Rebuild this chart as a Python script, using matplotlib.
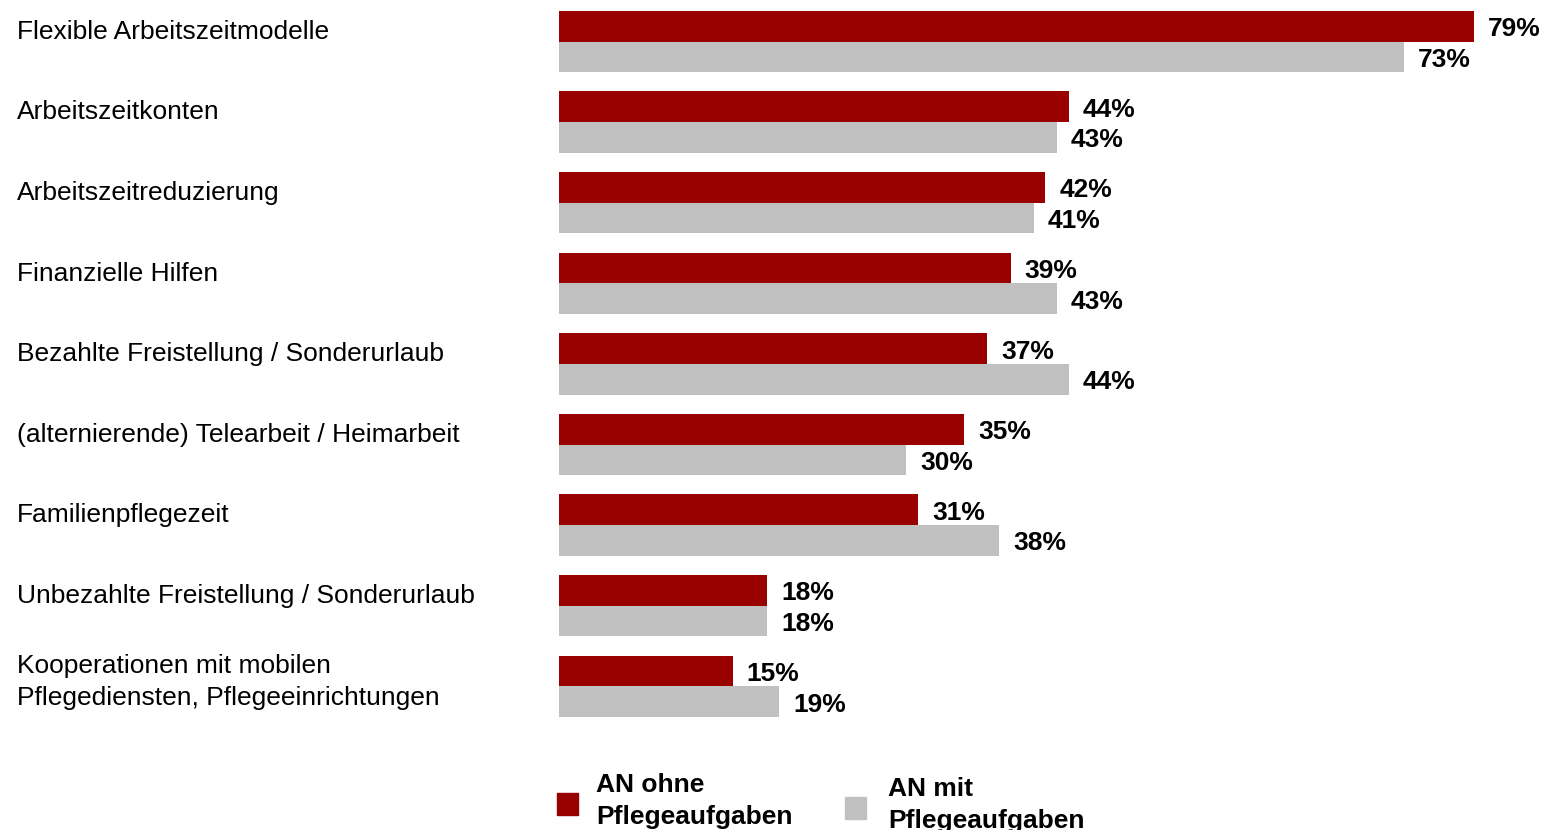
import matplotlib.pyplot as plt
from matplotlib.patches import Rectangle
from matplotlib.transforms import blended_transform_factory

plt.rcParams["font.family"] = ["Liberation Sans", "DejaVu Sans"]

# Maßnahmen und Zustimmung in Prozent
categories = [
    "Flexible Arbeitszeitmodelle",
    "Arbeitszeitkonten",
    "Arbeitszeitreduzierung",
    "Finanzielle Hilfen",
    "Bezahlte Freistellung / Sonderurlaub",
    "(alternierende) Telearbeit / Heimarbeit",
    "Familienpflegezeit",
    "Unbezahlte Freistellung / Sonderurlaub",
    "Kooperationen mit mobilen\nPflegediensten, Pflegeeinrichtungen",
]
ohne_pflege = [79, 44, 42, 39, 37, 35, 31, 18, 15]
mit_pflege = [73, 43, 41, 43, 44, 30, 38, 18, 19]
series_labels = ["AN ohne\nPflegeaufgaben", "AN mit\nPflegeaufgaben"]

RED = "#990000"
GREY = "#C0C0C0"

W, H = 1542, 830
fig = plt.figure(figsize=(W / 100, H / 100), dpi=100)
ax = fig.add_axes([559 / W, 1 - 760 / H, 1 - 559 / W, 760 / H])

bar_h = 0.38
ypos = list(range(len(categories)))
ax.barh([y - bar_h / 2 for y in ypos], ohne_pflege, height=bar_h, color=RED)
ax.barh([y + bar_h / 2 for y in ypos], mit_pflege, height=bar_h, color=GREY)

ax.set_xlim(0, (W - 559) / 11.58)
ax.set_ylim(8.914, -0.515)
ax.axis("off")

# Prozentwerte rechts neben den Balken
for y, a, b in zip(ypos, ohne_pflege, mit_pflege):
    ax.annotate(f"{a}%", (a, y - bar_h / 2), xytext=(10, -2.2), textcoords="offset points",
                va="center", ha="left", fontsize=19, fontweight="bold")
    ax.annotate(f"{b}%", (b, y + bar_h / 2), xytext=(10, -2.2), textcoords="offset points",
                va="center", ha="left", fontsize=19, fontweight="bold")

# Kategorienamen links
trans = blended_transform_factory(fig.transFigure, ax.transData)
for y, name in zip(ypos, categories):
    dy = -0.053 if "\n" in name else -0.12
    ax.text(17 / W, y + dy, name, transform=trans, ha="left", va="center",
            fontsize=19, linespacing=1.38)

# Legende unten
for x_box, x_txt, yc, color, label in [(557, 596, 801, RED, series_labels[0]),
                                       (845, 888, 805, GREY, series_labels[1])]:
    fig.add_artist(Rectangle((x_box / W, 1 - (yc + 14) / H), 21 / W, 22 / H,
                             transform=fig.transFigure, color=color))
    fig.text(x_txt / W, 1 - yc / H, label, ha="left", va="center",
             fontsize=19, fontweight="bold", linespacing=1.38)

fig.savefig("out.png", dpi=100)
